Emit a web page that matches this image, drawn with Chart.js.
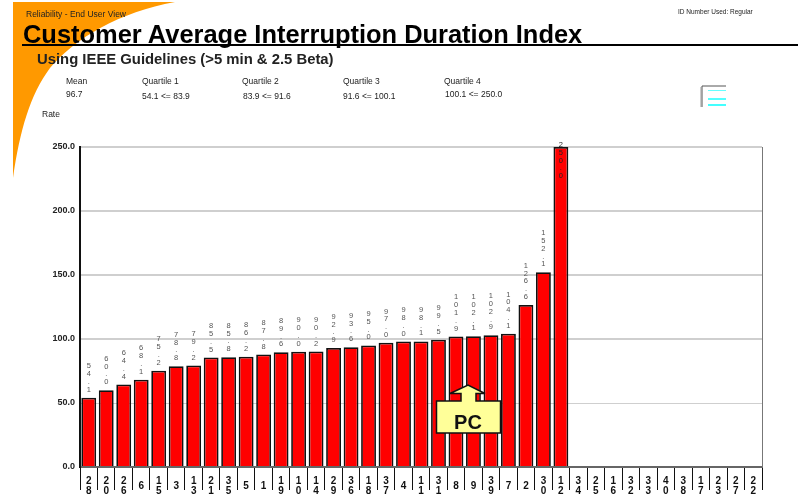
<!DOCTYPE html>
<html>
<head>
<meta charset="utf-8">
<script src="https://cdn.jsdelivr.net/npm/chart.js@4"></script>
<style>
html,body{margin:0;padding:0;background:#fff;}
#page{position:relative;width:798px;height:496px;overflow:hidden;font-family:"Liberation Sans",Arial,sans-serif;color:#222;filter:blur(0.45px);}
#bg,#fg{position:absolute;left:0;top:0;}
canvas{position:absolute;left:0;top:0;}
.t{position:absolute;white-space:nowrap;font-size:8.5px;line-height:10px;}
#title{left:23px;top:19px;font-size:25.45px;font-weight:bold;line-height:30px;color:#000;}
#sub{left:37px;top:51px;font-size:14.85px;font-weight:bold;line-height:17px;color:#222;}
</style>
</head>
<body>
<div id="page">
<svg id="bg" width="798" height="496">
  <path d="M13 2 L175 2 C120 12 75 38 50 68 C30 95 20 130 13 178 Z" fill="#ff9900"/>
</svg>
<canvas id="c" width="798" height="496"></canvas>
<svg id="fg" width="798" height="496">
  <rect x="22" y="44" width="776" height="2" fill="#000"/>
  <path d="M702 107 V86 H726" fill="none" stroke="#555" stroke-width="1"/>
  <path d="M701 107 V87" fill="none" stroke="#999" stroke-width="1"/>
  <rect x="708" y="90" width="18" height="1" fill="#66ffff"/>
  <rect x="708" y="98" width="18" height="2" fill="#55ffff"/>
  <rect x="708" y="104" width="18" height="2" fill="#44ffff"/>
  <path d="M436.5 401 H461 V393.5 H450 L468 385 L485 393.5 H476 V401 H500.5 V433 H436.5 Z" fill="#ffff99" stroke="#111" stroke-width="1.5"/>
  <text x="468" y="429" font-family="Liberation Sans, Arial, sans-serif" font-size="20" font-weight="bold" text-anchor="middle" fill="#111">PC</text>
</svg>
<div class="t" style="left:26px;top:9px">Reliability - End User View</div>
<div class="t" style="left:678px;top:7px;font-size:6.5px">ID Number Used: Regular</div>
<div class="t" id="title">Customer Average Interruption Duration Index</div>
<div class="t" id="sub">Using IEEE Guidelines (&gt;5 min &amp; 2.5 Beta)</div>
<div class="t" style="left:66px;top:76px">Mean</div>
<div class="t" style="left:66px;top:89px">96.7</div>
<div class="t" style="left:142px;top:76px">Quartile 1</div>
<div class="t" style="left:142px;top:91px">54.1 &lt;= 83.9</div>
<div class="t" style="left:242px;top:76px">Quartile 2</div>
<div class="t" style="left:243px;top:91px">83.9 &lt;= 91.6</div>
<div class="t" style="left:343px;top:76px">Quartile 3</div>
<div class="t" style="left:343px;top:91px">91.6 &lt;= 100.1</div>
<div class="t" style="left:444px;top:76px">Quartile 4</div>
<div class="t" style="left:445px;top:89px">100.1 &lt;= 250.0</div>
<div class="t" style="left:42px;top:109px">Rate</div>
</div>
<script>
const categories = ["28","20","26","6","15","3","13","21","35","5","1","19","10","14","29","36","18","37","4","11","31","8","9","39","7","2","30","12","34","25","16","32","33","40","38","17","23","27","22"];
const rates = [54.1,60.0,64.4,68.1,75.2,78.8,79.2,85.5,85.8,86.2,87.8,89.6,90.0,90.2,92.9,93.6,95.0,97.0,98.0,98.1,99.5,101.9,102.1,102.9,104.1,126.6,152.1,250.0,null,null,null,null,null,null,null,null,null,null,null];
const yTicks = [0,50,100,150,200,250];

const frame = {
  id:'frame',
  beforeDatasetsDraw(chart){
    const {ctx,chartArea:a} = chart;
    ctx.save();
    ctx.strokeStyle='#777';ctx.lineWidth=1;
    ctx.beginPath();ctx.moveTo(a.right+0.5,a.top);ctx.lineTo(a.right+0.5,a.bottom);ctx.stroke();
    ctx.restore();
  }
};
const stackedLabels = {
  id:'stackedLabels',
  afterDatasetsDraw(chart){
    const {ctx} = chart;
    const meta = chart.getDatasetMeta(0);
    ctx.save();
    ctx.font='7.5px "Liberation Sans", Arial, sans-serif';
    ctx.textAlign='center';ctx.textBaseline='middle';
    rates.forEach((v,i)=>{
      if(v===null) return;
      const chars=v.toFixed(1).split('');
      const el=meta.data[i];
      const step=7.8;
      const ideal=el.y-8-(chars.length-1)*step;
      const y=Math.max(ideal,145);
      ctx.fillStyle = ideal<145 ? '#222' : '#555';
      chars.forEach((ch,k)=>{ctx.fillText(ch,el.x,y+k*step);});
    });
    ctx.restore();
  }
};
new Chart(document.getElementById('c'),{
  type:'bar',
  data:{labels:categories,datasets:[{data:rates,backgroundColor:'#ff0000',borderColor:'#111',borderWidth:1.75,barPercentage:0.85,categoryPercentage:1}]},
  plugins:[frame,stackedLabels],
  options:{
    responsive:false,animation:false,
    layout:{padding:{left:0,right:36,top:147,bottom:0}},
    plugins:{legend:{display:false},tooltip:{enabled:false},title:{display:false}},
    scales:{
      x:{
        afterFit(s){s.height=29;},
        grid:{drawOnChartArea:false,drawTicks:true,tickLength:23,color:'#111',offset:true},
        border:{display:true,color:'#666',width:2},
        ticks:{autoSkip:false,maxRotation:0,minRotation:0,padding:-9,crossAlign:'center',color:'#111',
          font:{family:'"Liberation Sans", Arial, sans-serif',size:10,weight:'bold',lineHeight:1.05},
          callback(v){return this.getLabelForValue(v).split('');}}
      },
      y:{
        min:0,max:250,
        afterFit(s){s.width=80;},
        afterBuildTicks(s){s.ticks=yTicks.map(v=>({value:v}));},
        grid:{drawTicks:false,color:'#cfcfcf',lineWidth:c=>(c.tick&&c.tick.value===50)?1:2},
        border:{display:true,color:'#111',width:2},
        ticks:{padding:5,color:'#222',font:{family:'"Liberation Sans", Arial, sans-serif',size:9,weight:'bold'},
          callback(v){return v.toFixed(1);}}
      }
    }
  }
});
</script>
</body>
</html>
